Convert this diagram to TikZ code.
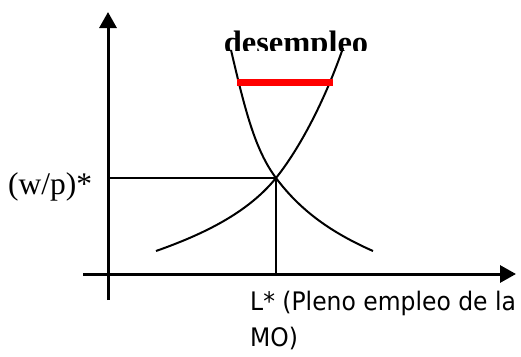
\documentclass[tikz,border=0pt]{standalone}
\usepackage{fontspec}
\setmainfont{Liberation Serif}
\setsansfont{DejaVu Sans}[FakeStretch=0.92]
\usetikzlibrary{arrows.meta}
\begin{document}
\begin{tikzpicture}[x=1pt,y=-1pt,
  axis/.style={line width=3pt,-{Triangle[length=16pt,width=17pt]}},
  curve/.style={line width=2pt},
  guide/.style={line width=2pt},
  gap/.style={line width=7pt,color=red},
  serif/.style={inner sep=0pt,font=\fontsize{31.5}{36}\selectfont},
  sanslab/.style={inner sep=0pt,font=\sffamily\fontsize{25.5}{36}\selectfont}]
\useasboundingbox (0,0) rectangle (521,356);
% axes
\coordinate (ybot) at (108,300);
\coordinate (ytop) at (108,12);
\coordinate (xleft) at (83,274);
\coordinate (xright) at (516,274);
\draw[axis] (ybot) -- (ytop);
\draw[axis] (xleft) -- (xright);
% equilibrium
\coordinate (E) at (276,178);
\coordinate (Ey) at (110,178);
\coordinate (Ex) at (276,274);
\draw[guide] (Ey) -- (E) -- (Ex);
% supply
\coordinate (S0) at (156,251);
\coordinate (S1) at (343,48);
\draw[curve] (S0) .. controls (210,232) and (250,210) .. (E)
  .. controls (300,148) and (325,100) .. (S1);
% demand
\coordinate (D0) at (231,50);
\coordinate (D1) at (373,251);
\draw[curve] (D0) .. controls (245,110) and (255,150) .. (E)
  .. controls (300,210) and (330,232) .. (D1);
% red gap
\coordinate (R0) at (237,82);
\coordinate (R1) at (333,82);
\draw[gap] (R0) -- (R1);
% labels
\begin{scope}
\clip (150,0) rectangle (450,50);
\node[serif,anchor=base,font=\bfseries\fontsize{32.5}{36}\selectfont] (des) at (296,53.5) {desempleo};
\end{scope}
\node[serif,anchor=base west] (wp) at (8,194) {(w/p)*};
\node[sanslab,anchor=base west] (L1) at (250,310) {L* (Pleno empleo de la};
\node[sanslab,anchor=base west] (L2) at (250,346) {MO)};
\end{tikzpicture}
\end{document}
